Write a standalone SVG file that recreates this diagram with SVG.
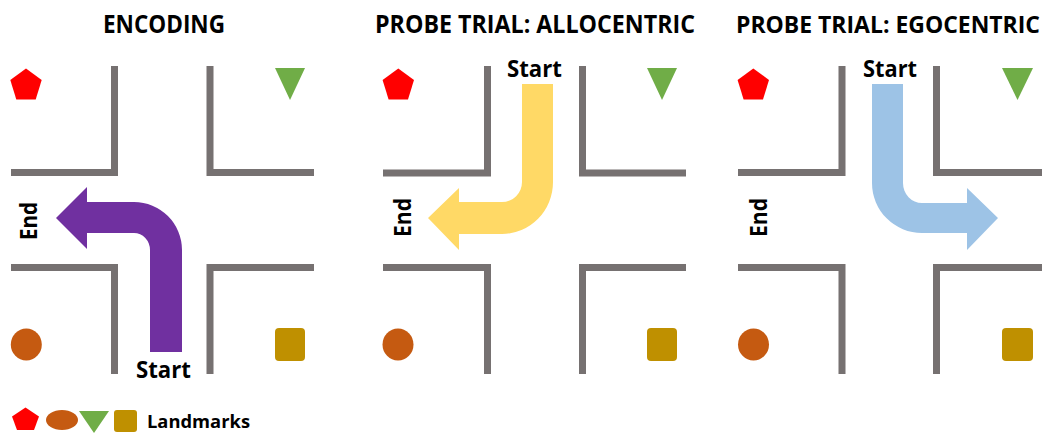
<svg xmlns="http://www.w3.org/2000/svg" width="1046" height="434" viewBox="0 0 1046 434">
<style>
.wall{fill:none;stroke:#767171;stroke-width:7;stroke-linecap:butt;stroke-linejoin:miter}
.t{font-family:"Open Sans","Liberation Sans",sans-serif;font-weight:bold;fill:#000}
.title{font-size:25px}
.lbl{font-size:23px}
.red{fill:#FF0000}.grn{fill:#70AD47}.org{fill:#C55A11}.gld{fill:#BF9000}
</style>
<rect width="1046" height="434" fill="#fff"/>
<g id="titles">
<text class="t title" x="103" y="33" textLength="122" lengthAdjust="spacingAndGlyphs">ENCODING</text>
<text class="t title" x="375" y="33" textLength="320" lengthAdjust="spacingAndGlyphs">PROBE TRIAL: ALLOCENTRIC</text>
<text class="t" x="736" y="33" font-size="23" textLength="304" lengthAdjust="spacingAndGlyphs">PROBE TRIAL: EGOCENTRIC</text>
</g>
<g id="panel-encoding">
<polyline class="wall" points="114.5,66 114.5,172.5 11,172.5"/>
<polyline class="wall" points="210,66 210,172.5 314,172.5"/>
<polyline class="wall" points="11,267.5 114.5,267.5 114.5,374"/>
<polyline class="wall" points="314,267.5 210,267.5 210,374"/>
<polygon class="red" points="26,68.5 41.7,79.9 35.7,99.5 16.3,99.5 10.3,79.9"/>
<polygon class="grn" points="275,68 305,68 290,100"/>
<ellipse class="org" cx="26.3" cy="344.5" rx="15.5" ry="16"/>
<rect class="gld" x="275" y="328" width="30" height="33" rx="4"/>
<path fill="#7030A0" d="M150,352 L182,352 L182,250 A48,48 0 0 0 134,202 L87,202 L87,187 L56,218 L87,249 L87,233 L134,233 A16,17 0 0 1 150,250 Z"/>
<text class="t lbl" x="136" y="378" textLength="55" lengthAdjust="spacingAndGlyphs">Start</text>
<text class="t lbl" transform="translate(37,240) rotate(-90)" textLength="38" lengthAdjust="spacingAndGlyphs">End</text>
</g>
<g id="panel-allocentric">
<polyline class="wall" points="487.5,66 487.5,173 383,173"/>
<polyline class="wall" points="582.5,66 582.5,173 686,173"/>
<polyline class="wall" points="383,267.5 487.5,267.5 487.5,374"/>
<polyline class="wall" points="686,267.5 582.5,267.5 582.5,374"/>
<polygon class="red" points="398.3,68.5 414,79.9 408,99.5 388.6,99.5 382.6,79.9"/>
<polygon class="grn" points="647,68 677,68 662,100"/>
<ellipse class="org" cx="398" cy="344.5" rx="15.5" ry="16"/>
<rect class="gld" x="647" y="328" width="30" height="33" rx="4"/>
<path fill="#FFD966" d="M522,84 L553,84 L553,182 A51,52 0 0 1 502,234 L459,234 L459,250 L428,218 L459,188 L459,202 L502,202 A20,20 0 0 0 522,182 Z"/>
<text class="t lbl" x="507" y="77" textLength="55" lengthAdjust="spacingAndGlyphs">Start</text>
<text class="t lbl" transform="translate(411,237) rotate(-90)" textLength="39" lengthAdjust="spacingAndGlyphs">End</text>
</g>
<g id="panel-egocentric">
<polyline class="wall" points="842,66 842,172.5 738,172.5"/>
<polyline class="wall" points="936.5,66 936.5,172.5 1042,172.5"/>
<polyline class="wall" points="738,267.5 842,267.5 842,374"/>
<polyline class="wall" points="1042,267.5 936.5,267.5 936.5,374"/>
<polygon class="red" points="753.3,68.5 769,79.9 763,99.5 743.6,99.5 737.6,79.9"/>
<polygon class="grn" points="1002,68 1033,68 1017.5,100"/>
<ellipse class="org" cx="753.5" cy="344.5" rx="15.5" ry="16"/>
<rect class="gld" x="1002" y="328" width="31" height="33" rx="4"/>
<path fill="#9DC3E6" d="M872,84 L903,84 L903,183 A19,20 0 0 0 922,203 L967,203 L967,188 L998,218 L967,250 L967,233 L922,233 A50,50 0 0 1 872,183 Z"/>
<text class="t lbl" x="863" y="77" textLength="54" lengthAdjust="spacingAndGlyphs">Start</text>
<text class="t lbl" transform="translate(767,237) rotate(-90)" textLength="39" lengthAdjust="spacingAndGlyphs">End</text>
</g>
<g id="legend">
<polygon class="red" points="25.5,407.5 39,416.5 34,430 17,430 12,416.5"/>
<ellipse class="org" cx="62" cy="420" rx="16" ry="10"/>
<polygon class="grn" points="79,411 109,411 94,433"/>
<rect class="gld" x="114" y="410" width="23" height="22" rx="3"/>
<text class="t" x="147" y="428" font-size="18" textLength="103" lengthAdjust="spacingAndGlyphs">Landmarks</text>
</g>
<g id="connectors"/>
</svg>
